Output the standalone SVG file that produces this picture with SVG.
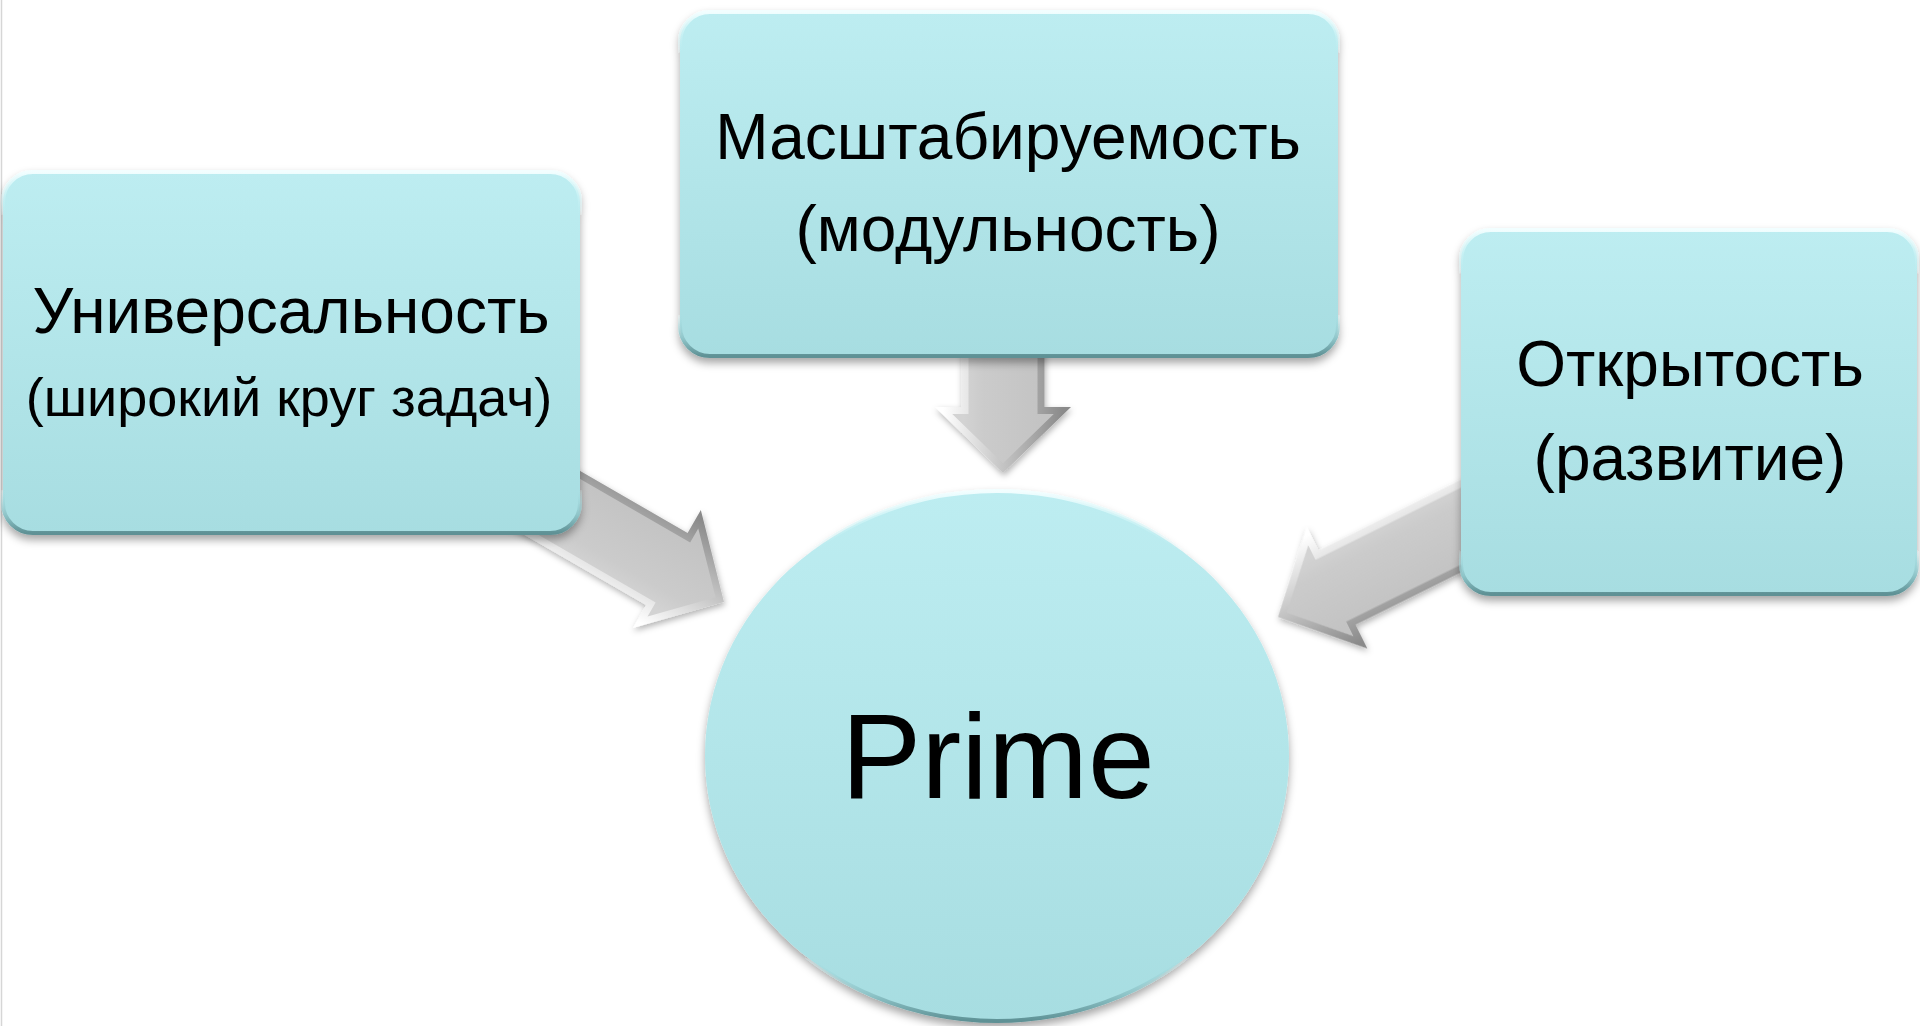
<svg xmlns="http://www.w3.org/2000/svg" width="1920" height="1026" viewBox="0 0 1920 1026">
  <defs>
    <!-- aqua fill for the nodes -->
    <linearGradient id="nodeFill" x1="0" y1="0" x2="0" y2="1">
      <stop offset="0" stop-color="#bdedf1"/>
      <stop offset="1" stop-color="#a7dde1"/>
    </linearGradient>
    <!-- bevel rim: bright top edge, dark bottom edge -->
    <linearGradient id="nodeRim" x1="0" y1="0" x2="0" y2="1">
      <stop offset="0" stop-color="#f2feff"/>
      <stop offset="0.06" stop-color="#d4f6f8" stop-opacity="0.6"/>
      <stop offset="0.12" stop-color="#bdedf1" stop-opacity="0"/>
      <stop offset="0.88" stop-color="#a7dde1" stop-opacity="0"/>
      <stop offset="0.95" stop-color="#8ec4c8"/>
      <stop offset="1" stop-color="#5e9195"/>
    </linearGradient>
    <!-- arrow bevel, in the arrow's own frame (+y side is lit) -->
    <linearGradient id="arrowRim" gradientUnits="userSpaceOnUse" x1="0" y1="-60" x2="0" y2="60">
      <stop offset="0" stop-color="#8a8a8a"/>
      <stop offset="0.5" stop-color="#c4c4c4"/>
      <stop offset="1" stop-color="#ffffff"/>
    </linearGradient>
    <linearGradient id="arrowFace" gradientUnits="userSpaceOnUse" x1="0" y1="-40" x2="0" y2="40">
      <stop offset="0" stop-color="#c3c3c3"/>
      <stop offset="0.75" stop-color="#cbcbcb"/>
      <stop offset="1" stop-color="#d3d3d3"/>
    </linearGradient>
    <filter id="nodeShadow" x="-10%" y="-10%" width="120%" height="125%">
      <feDropShadow dx="0" dy="5" stdDeviation="4" flood-color="#000" flood-opacity="0.35"/>
    </filter>
    <filter id="arrowShadow" x="-20%" y="-20%" width="140%" height="140%">
      <feDropShadow dx="1" dy="3" stdDeviation="3" flood-color="#000" flood-opacity="0.3"/>
    </filter>
    <!-- block arrow pointing +x with its tip at the origin -->
    <g id="blockArrow">
      <polygon points="0,0 -66,-68 -66,-41.5 -260,-41.5 -260,41.5 -66,41.5 -66,68" fill="url(#arrowRim)"/>
      <polygon points="-9.75,0 -59,-50.7 -59,-34.5 -260,-34.5 -260,34.5 -59,34.5 -59,50.7" fill="url(#arrowFace)"/>
    </g>
  </defs>
  <style>
    .node-shape { fill: url(#nodeFill); stroke: url(#nodeRim); stroke-width: 4; }
    .label { font-family: "Liberation Sans", Arial, sans-serif; fill: #000; text-anchor: middle; }
    .big { font-size: 64px; }
    .small { font-size: 54px; }
    .title { font-size: 120px; }
  </style>

  <rect width="1920" height="1026" fill="#ffffff"/>
  <line x1="1.5" y1="0" x2="1.5" y2="1026" stroke="#d6d6d6" stroke-width="1.5"/>

  <!-- connectors -->
  <g id="connectors" filter="url(#arrowShadow)">
    <use href="#blockArrow" transform="translate(724,602) rotate(30)"/>
    <use href="#blockArrow" transform="translate(1003,473) rotate(90)"/>
    <use href="#blockArrow" transform="translate(1278,617) rotate(153.6)"/>
  </g>

  <!-- nodes -->
  <g id="node-universal" filter="url(#nodeShadow)">
    <rect class="node-shape" x="3" y="172" width="577" height="361" rx="30"/>
    <text class="label big" x="291" y="333">Универсальность</text>
    <text class="label small" x="289" y="416">(широкий круг задач)</text>
  </g>

  <g id="node-scalable" filter="url(#nodeShadow)">
    <rect class="node-shape" x="680" y="12" width="658" height="344" rx="30"/>
    <text class="label big" x="1008" y="159">Масштабируемость</text>
    <text class="label big" x="1008" y="251">(модульность)</text>
  </g>

  <g id="node-open" filter="url(#nodeShadow)">
    <rect class="node-shape" x="1461" y="230" width="456" height="364" rx="30"/>
    <text class="label big" x="1690" y="386">Открытость</text>
    <text class="label big" x="1690" y="480">(развитие)</text>
  </g>

  <g id="node-prime" filter="url(#nodeShadow)">
    <ellipse class="node-shape" cx="997" cy="756" rx="292" ry="265"/>
    <text class="label title" x="998" y="798">Prime</text>
  </g>
</svg>
